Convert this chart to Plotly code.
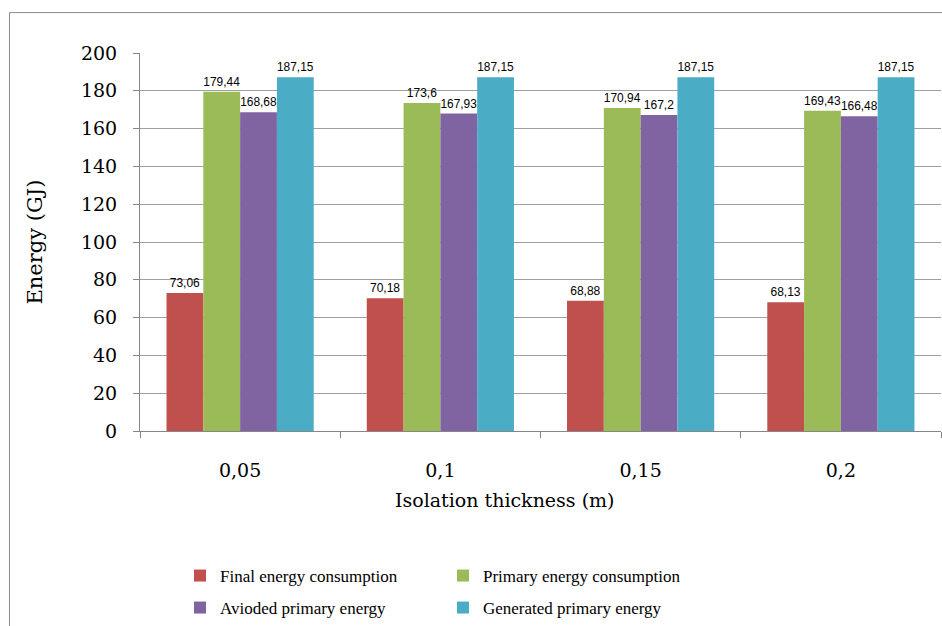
import plotly.graph_objects as go

categories = ["0,05", "0,1", "0,15", "0,2"]
final_energy = [73.06, 70.18, 68.88, 68.13]
primary_energy = [179.44, 173.6, 170.94, 169.43]
avoided_energy = [168.68, 167.93, 167.2, 166.48]
generated_energy = [187.15, 187.15, 187.15, 187.15]

series = [
    ("Final energy consumption", final_energy, "#C0504D", "legend"),
    ("Primary energy consumption", primary_energy, "#9BBB59", "legend"),
    ("Avioded primary energy", avoided_energy, "#8064A2", "legend2"),
    ("Generated primary energy", generated_energy, "#4BACC6", "legend2"),
]

def fmt(v):
    return ("%g" % v).replace(".", ",")

fig = go.Figure()
for name, vals, color, lg in series:
    fig.add_trace(go.Bar(
        x=categories, y=vals, name=name, legend=lg,
        marker=dict(color=color, line=dict(width=0)),
        text=[fmt(v) for v in vals], textposition="outside",
        textfont=dict(family="Liberation Sans", size=12, color="#000"),
        cliponaxis=False,
    ))

W, H = 942, 626
L, R, T, B = 140, 1, 53, 194
pw, ph = W - L - R, H - T - B

def px(x):
    return (x - L) / pw

def py(y):
    return (H - B - y) / ph

serif = "DejaVu Serif"
legfont = dict(family="Liberation Serif", size=17, color="#000")
fig.update_layout(
    width=W, height=H,
    margin=dict(l=L, r=R, t=T, b=B),
    paper_bgcolor="white", plot_bgcolor="white",
    barmode="group", bargap=0.265, bargroupgap=0,
    showlegend=True,
    legend=dict(orientation="h", x=px(180), y=py(576), xanchor="left", yanchor="middle",
                entrywidth=218, font=legfont, bgcolor="rgba(0,0,0,0)"),
    legend2=dict(orientation="h", x=px(180), y=py(608), xanchor="left", yanchor="middle",
                 entrywidth=218, font=legfont, bgcolor="rgba(0,0,0,0)"),
    xaxis=dict(
        type="category", tickson="boundaries", ticks="outside", ticklen=6,
        tickcolor="#868686", showline=True, linecolor="#868686", linewidth=1,
        tickfont=dict(family=serif, size=19, color="#000"), ticklabelstandoff=22,
        showgrid=False,
    ),
    yaxis=dict(
        range=[0, 200], dtick=20, ticks="outside", ticklen=6, tickcolor="#868686",
        showline=True, linecolor="#868686", linewidth=1,
        showgrid=True, gridcolor="#a0a0a0", gridwidth=1, zeroline=False,
        tickfont=dict(family=serif, size=19, color="#000"), ticklabelstandoff=12,
    ),
    shapes=[dict(type="rect", xref="paper", yref="paper",
                 x0=px(9.5), x1=px(960), y0=py(660), y1=py(12.5),
                 line=dict(color="#8c8c8c", width=1), fillcolor="rgba(0,0,0,0)", layer="below")],
    annotations=[
        dict(text="Isolation thickness (m)", xref="paper", yref="paper",
             x=px(505), y=py(501), xanchor="center", yanchor="middle", showarrow=False,
             font=dict(family=serif, size=19, color="#000")),
        dict(text="Energy (GJ)", xref="paper", yref="paper", textangle=-90,
             x=px(35), y=py(243), xanchor="center", yanchor="middle", showarrow=False,
             font=dict(family=serif, size=21, color="#000")),
    ],
)

fig.write_html("out.html", config={"displayModeBar": False},
               post_script="document.body.style.margin='0';")
